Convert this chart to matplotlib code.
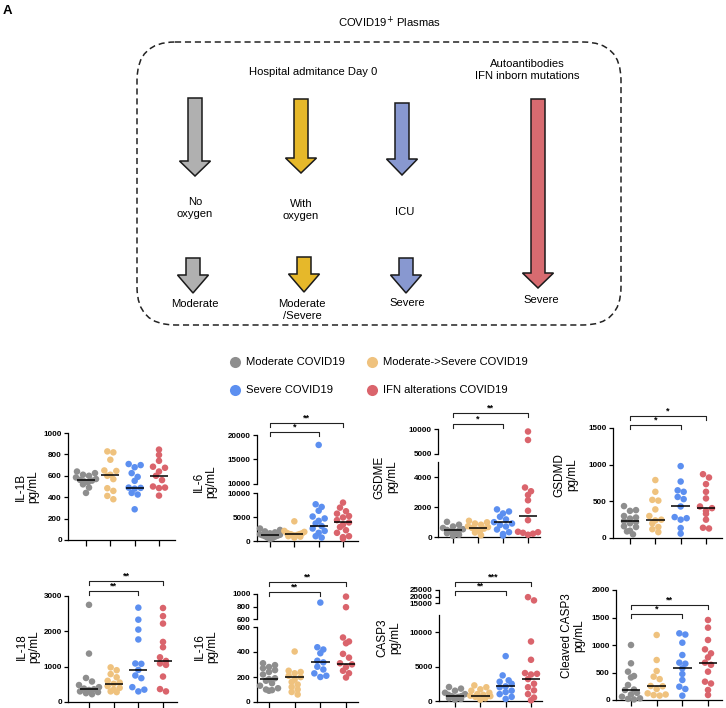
import numpy as np
import matplotlib
matplotlib.use("Agg")
import matplotlib.pyplot as plt
from matplotlib.patches import FancyArrow, FancyBboxPatch
from matplotlib.lines import Line2D
from matplotlib.transforms import blended_transform_factory

plt.rcParams['font.family'] = ['Liberation Sans', 'DejaVu Sans']

# ---------------- data ----------------
groups = ["Moderate COVID19", "Moderate->Severe COVID19", "Severe COVID19", "IFN alterations COVID19"]
group_colors = ["#8e8e8e", "#efc27e", "#5c8ff0", "#da646c"]

IL1B = [
    [640, 625, 610, 600, 585, 570, 562, 555, 548, 540, 520, 490, 440],
    [828, 819, 750, 650, 645, 610, 600, 569, 484, 459, 412, 381],
    [710, 700, 680, 625, 590, 553, 490, 487, 480, 440, 425, 287],
    [845, 795, 740, 685, 675, 640, 600, 560, 500, 490, 485, 415],
]
IL1B_med = [562, 606, 487, 600]

IL6 = [
    [2600, 2300, 2000, 1800, 1600, 1400, 1300, 1200, 1100, 1000, 900, 700, 600, 400],
    [4100, 2100, 1900, 1700, 1600, 1500, 1450, 1400, 1300, 1200, 1100, 1000, 900, 700],
    [17970, 7650, 7100, 6300, 5100, 4700, 4200, 3650, 3100, 2600, 2100, 1700, 1000, 700],
    [8000, 6950, 6200, 5700, 5200, 4900, 4350, 3860, 3400, 2900, 2250, 1700, 1000, 800, 500],
]
IL6_med = [1240, 1450, 3100, 3860]

GSDME = [
    [1010, 820, 700, 600, 520, 470, 430, 380, 330, 250, 150, 80],
    [1080, 980, 900, 820, 720, 660, 607, 560, 500, 400, 300, 120],
    [1840, 1700, 1570, 1350, 1170, 990, 900, 800, 700, 500, 320, 200, 100],
    [9500, 7800, 3300, 3050, 2800, 2450, 1750, 1120, 350, 320, 280, 220, 150],
]
GSDME_med = [450, 607, 990, 1416]

GSDMD = [
    [435, 380, 370, 300, 280, 265, 230, 220, 200, 160, 150, 100, 90, 50],
    [790, 630, 520, 510, 390, 300, 250, 240, 200, 150, 120, 80],
    [980, 770, 650, 630, 560, 530, 430, 285, 270, 250, 136, 60],
    [870, 825, 735, 630, 540, 430, 407, 370, 330, 250, 140, 130],
]
GSDMD_med = [226, 248, 430, 407]

IL18 = [
    [2750, 1370, 680, 580, 480, 420, 380, 360, 340, 300, 280, 250, 220],
    [980, 900, 790, 700, 600, 550, 515, 450, 400, 350, 300, 280],
    [2670, 2330, 2050, 1770, 1090, 1080, 909, 750, 675, 420, 350, 300],
    [2660, 2430, 2220, 1700, 1550, 1265, 1162, 1090, 1050, 720, 365, 300],
]
IL18_med = [365, 515, 909, 1162]

IL16 = [
    [310, 295, 280, 270, 255, 240, 220, 190, 183, 170, 150, 130, 110, 100, 95, 90],
    [404, 250, 240, 230, 210, 199, 180, 160, 140, 120, 100, 80, 60],
    [863, 438, 420, 390, 330, 317, 282, 260, 229, 210, 200],
    [958, 789, 516, 484, 470, 385, 355, 310, 301, 280, 250, 230, 196],
]
IL16_med = [183, 199, 317, 301]

CASP3 = [
    [2030, 1800, 1500, 1200, 1000, 900, 725, 700, 600, 500, 400, 300, 200],
    [2270, 2000, 1700, 1500, 1200, 1000, 900, 773, 700, 600, 400, 200],
    [6520, 3720, 3000, 2800, 2500, 2125, 2000, 1500, 1300, 1000, 600, 300],
    [19500, 17000, 8650, 5990, 4060, 3950, 3850, 3188, 2510, 2000, 1550, 1000, 500, 100],
]
CASP3_med = [725, 773, 2125, 3188]

CCASP3 = [
    [1000, 667, 515, 436, 410, 273, 190, 182, 130, 100, 60, 30, 20, 10],
    [1182, 727, 527, 424, 380, 255, 250, 200, 121, 100, 90, 80],
    [1212, 1190, 1042, 818, 679, 660, 576, 473, 364, 242, 200, 79],
    [1455, 1315, 1091, 921, 848, 776, 679, 640, 515, 333, 300, 182, 91],
]
CCASP3_med = [182, 255, 576, 679]

# significance: (from group, to group, label)
IL6_sig = [(0, 2, "*"), (0, 3, "**")]
GSDME_sig = [(0, 2, "*"), (0, 3, "**")]
GSDMD_sig = [(0, 2, "*"), (0, 3, "*")]
IL18_sig = [(0, 2, "**"), (0, 3, "**")]
IL16_sig = [(0, 2, "**"), (0, 3, "**")]
CASP3_sig = [(0, 2, "**"), (0, 3, "***")]
CCASP3_sig = [(0, 2, "*"), (0, 3, "**")]

# ---------------- figure ----------------
W, H = 726, 708
fig = plt.figure(figsize=(W / 100, H / 100), dpi=100)
ov = fig.add_axes([0, 0, 1, 1], zorder=-1)
ov.set_xlim(0, W)
ov.set_ylim(H, 0)
ov.axis("off")

# panel label
ov.text(3, 11, "A", fontsize=9.5, fontweight="bold", va="center", ha="left")

# ---------------- diagram ----------------
ov.text(390, 22, "COVID19$^{+}$ Plasmas", fontsize=8.1, ha="center", va="center")
box = FancyBboxPatch((137, 42), 484, 283, boxstyle="round,pad=0,rounding_size=38",
                     fill=False, ec="#222222", lw=1.1, ls=(0, (4, 2.5)))
ov.add_patch(box)
ov.text(313, 72, "Hospital admitance Day 0", fontsize=8.1, ha="center", va="center")
ov.text(527, 70, "Autoantibodies\nIFN inborn mutations", fontsize=8.1, ha="center",
        va="center", linespacing=1.15)

arrow_c = ["#b0b0b0", "#e6b82a", "#8898d0", "#d76b70"]


def arrow(x, y0, y1, c, hl=15):
    a = FancyArrow(x, y0, 0, y1 - y0, width=14, head_width=31, head_length=hl,
                   length_includes_head=True, fc=c, ec="#1a1a1a", lw=1.1)
    ov.add_patch(a)


arrow(195, 98, 176, arrow_c[0])
arrow(301, 99, 173, arrow_c[1])
arrow(402, 103, 175, arrow_c[2], 16)
arrow(538, 99, 288, arrow_c[3])
arrow(193, 258, 293, arrow_c[0], 18)
arrow(304, 257, 292, arrow_c[1], 18)
arrow(406, 258, 293, arrow_c[2], 18)

ov.text(195, 208, "No\noxygen", fontsize=8.1, ha="center", va="center", linespacing=1.2)
ov.text(301, 210, "With\noxygen", fontsize=8.1, ha="center", va="center", linespacing=1.2)
ov.text(405, 212, "ICU", fontsize=8.1, ha="center", va="center")
ov.text(195, 304, "Moderate", fontsize=8.1, ha="center", va="center")
ov.text(302, 310, "Moderate\n/Severe", fontsize=8.1, ha="center", va="center", linespacing=1.15)
ov.text(407, 303, "Severe", fontsize=8.1, ha="center", va="center")
ov.text(541, 300, "Severe", fontsize=8.1, ha="center", va="center")

# ---------------- legend ----------------
leg_pos = [(235, 362), (372, 362), (235, 390), (372, 390)]
for (lx, ly), g, c in zip(leg_pos, groups, group_colors):
    ov.plot([lx], [ly], "o", ms=8, color=c, mec="none")
    ov.text(lx + 11, ly, g, fontsize=8.1, ha="left", va="center")

# ---------------- panels ----------------
TICK_FS = 5.8
SPINE_LW = 0.9
ROW_H = 5.0        # px, height of a row of dots (GraphPad-style scatter)
ROW_STEP = 6.0     # px, horizontal step between dots in a row
MAX_OFF = 10.0     # px, maximum horizontal spread


def ypix(v, segs):
    for lo, hi, p0, p1, _ in segs:
        if lo <= v <= hi:
            return p0 + (v - lo) / (hi - lo) * (p1 - p0)
    return segs[-1][3]


def row_scatter(vals, segs):
    ys = np.array([ypix(v, segs) for v in vals])
    order = np.argsort(ys)
    offs = np.zeros(len(vals))
    rows = []
    for i in order:
        if rows and ys[i] - ys[rows[-1][0]] < ROW_H:
            rows[-1].append(i)
        else:
            rows.append([i])
    for r in rows:
        n = len(r)
        if n == 1:
            continue
        step = min(ROW_STEP, 2 * MAX_OFF / (n - 1))
        pos = [(k - (n - 1) / 2) * step for k in range(n)]
        # zigzag: outermost-left, outermost-right, next-left, next-right ...
        zz = []
        lo_i, hi_i = 0, n - 1
        while lo_i <= hi_i:
            zz.append(pos[lo_i])
            if hi_i != lo_i:
                zz.append(pos[hi_i])
            lo_i += 1
            hi_i -= 1
        r_sorted = sorted(r, key=lambda j: ys[j])
        for j, p in zip(r_sorted, zz):
            offs[j] = p
    return offs


def panel(data, meds, left, right, cats, segs, ylabel, lab_xy, sigs=None):
    sp = (cats[-1] - cats[0]) / 3.0
    xlim = ((left - cats[0]) / sp, (right - cats[0]) / sp)
    axes = []
    for k, (lo, hi, p0, p1, ticks) in enumerate(segs):
        ax = fig.add_axes([left / W, 1 - p0 / H, (right - left) / W, (p0 - p1) / H])
        ax.patch.set_alpha(0)
        ax.set_xlim(*xlim)
        ax.set_ylim(lo, hi)
        ax.set_yticks(ticks)
        ax.set_yticklabels([str(t) for t in ticks], fontsize=TICK_FS, fontweight="bold")
        for s in ["top", "right"]:
            ax.spines[s].set_visible(False)
        ax.spines["left"].set_linewidth(SPINE_LW)
        ax.spines["bottom"].set_linewidth(SPINE_LW)
        ax.tick_params(axis="y", length=3, width=SPINE_LW, pad=1.5)
        if k == 0:
            ax.set_xticks(range(4))
            ax.set_xticklabels([])
            ax.tick_params(axis="x", length=4, width=SPINE_LW)
        else:
            ax.spines["bottom"].set_visible(False)
            ax.set_xticks([])
        axes.append(ax)
    for gi in range(4):
        vals = data[gi]
        offs = row_scatter(vals, segs) / sp
        for (lo, hi, p0, p1, _), ax in zip(segs, axes):
            sel = [j for j, v in enumerate(vals) if lo <= v <= hi]
            if not sel:
                continue
            ax.scatter([gi + offs[j] for j in sel], [vals[j] for j in sel], s=22,
                       color=group_colors[gi], edgecolors="none", clip_on=False, zorder=3)
        m = meds[gi]
        for (lo, hi, p0, p1, _), ax in zip(segs, axes):
            if lo <= m <= hi:
                ax.plot([gi - 0.37, gi + 0.37], [m, m], color="black", lw=1.1,
                        zorder=4, solid_capstyle="butt", clip_on=False)
                break
    # y label
    ov.text(lab_xy[0], lab_xy[1], ylabel, rotation=90, fontsize=8.5, ha="center",
            va="center", multialignment="center", linespacing=1.05)
    # brackets
    if sigs:
        top = axes[-1]
        tr = blended_transform_factory(top.transData, ov.transData)
        for (a, b, lab), yb in sigs:
            top.add_line(Line2D([a, a, b, b], [yb + 4, yb, yb, yb + 4], transform=tr,
                                color="#222222", lw=0.8, clip_on=False))
            top.text((a + b) / 2, yb - 0.5, lab, transform=tr, ha="center", va="bottom",
                     fontsize=6.5, fontweight="bold", clip_on=False)
    return axes


panel(IL1B, IL1B_med, 68, 175, [86, 110, 134, 159],
      [(0, 1000, 540, 433, [0, 200, 400, 600, 800, 1000])],
      "IL-1B\npg/mL", (27, 487))

panel(IL6, IL6_med, 257, 358, [270, 295, 318, 343],
      [(0, 10000, 541, 493, [0, 5000, 10000]), (10000, 20000, 484, 435, [10000, 15000, 20000])],
      "IL-6\npg/mL", (205, 482), list(zip(IL6_sig, [432, 423])))

panel(GSDME, GSDME_med, 438, 540, [453, 478, 503, 528],
      [(0, 5000, 537, 462, [0, 2000, 4000]), (5000, 10000, 454, 429, [5000, 10000])],
      "GSDME\npg/mL", (386, 477), list(zip(GSDME_sig, [424, 413])))

panel(GSDMD, GSDMD_med, 613, 722, [630, 656, 681, 706],
      [(0, 1500, 538, 428, [0, 500, 1000, 1500])],
      "GSDMD\npg/mL", (566, 475), list(zip(GSDMD_sig, [425, 416])))

panel(IL18, IL18_med, 68, 177, [89, 114, 139, 163],
      [(0, 3000, 702, 596, [0, 1000, 2000, 3000])],
      "IL-18\npg/mL", (28, 647), list(zip(IL18_sig, [591, 581])))

panel(IL16, IL16_med, 257, 358, [269, 295, 321, 346],
      [(0, 600, 702, 627, [0, 200, 400, 600]), (600, 1000, 619, 594, [600, 800, 1000])],
      "IL-16\npg/mL", (206, 647), list(zip(IL16_sig, [592, 582])))

panel(CASP3, CASP3_med, 439, 542, [455, 480, 505, 531],
      [(0, 12500, 701, 615, [0, 5000, 10000]), (15000, 25000, 603, 590, [15000, 20000, 25000])],
      "CASP3\npg/mL", (389, 638), list(zip(CASP3_sig, [591, 582])))

panel(CCASP3, CCASP3_med, 616, 722, [631, 657, 683, 708],
      [(0, 2000, 700, 590, [0, 500, 1000, 1500, 2000])],
      "Cleaved CASP3\npg/mL", (573, 636), list(zip(CCASP3_sig, [614, 605])))

fig.savefig("out.png", dpi=100)
